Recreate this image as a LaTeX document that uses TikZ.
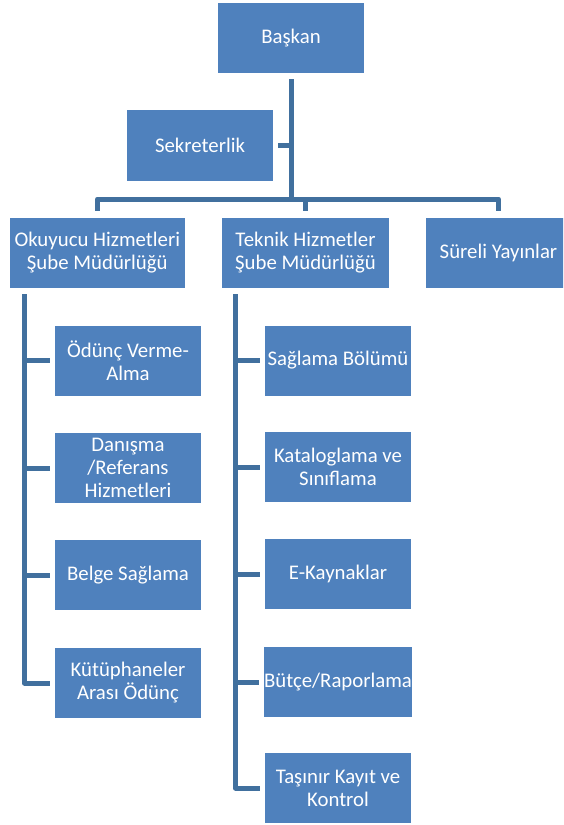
\documentclass[tikz,border=0pt]{standalone}
\usepackage{fontspec}
\setmainfont{Carlito}
\definecolor{boxblue}{HTML}{4F81BD}
\definecolor{lineblue}{HTML}{41709E}
\begin{document}
\begin{tikzpicture}[x=1pt,y=-1pt,
  box/.style={fill=boxblue, draw=none, text=white, align=center, inner sep=0pt,
    minimum width=146pt, minimum height=70pt,
    font=\fontsize{20.8}{23}\selectfont},
  conn/.style={draw=lineblue, line width=5pt, line join=round}]
\clip (0,0) rectangle (563,825);
\fill[white] (0,0) rectangle (563,825);
% top level
\node[box] (baskan) at (291,38) {Başkan};
\node[box, minimum height=71pt] (sekreter) at (200,145.5) {Sekreterlik};
% second level
\node[box, minimum width=174.6pt] (okuyucu) at (97.3,253) {Okuyucu Hizmetleri\\Şube Müdürlüğü};
\node[box, minimum width=167pt] (teknik) at (305.5,253) {Teknik Hizmetler\\Şube Müdürlüğü};
\node[box, minimum width=145pt] (sureli) at (498.5,253) {Süreli Yayınlar};
% left children
\node[box] (odunc) at (128,360.5) {Ödünç Verme-\\Alma};
\node[box] (danisma) at (128,468) {Danışma\\/Referans\\Hizmetleri};
\node[box] (belge) at (128,575) {Belge Sağlama};
\node[box] (kutup) at (128,683) {Kütüphaneler\\Arası Ödünç};
% right children
\node[box] (saglama) at (338,360.5) {Sağlama Bölümü};
\node[box] (katalog) at (338,467) {Kataloglama ve\\Sınıflama};
\node[box] (ekaynak) at (338,574) {E-Kaynaklar};
\node[box] (butce) at (338,682) {Bütçe/Raporlama};
\node[box] (tasinir) at (338,788) {Taşınır Kayıt ve\\Kontrol};
% junction coordinates
\coordinate (bar) at (0,199);
\coordinate (lspine) at (24.5,294);
\coordinate (rspine) at (235.5,294);
% connectors top
\draw[conn] ([yshift=-6pt]baskan.south) -- (baskan.south |- bar);
\draw[conn] ([xshift=5pt]sekreter.east) -- (sekreter.east -| baskan.south);
\draw[conn] ([yshift=7pt]okuyucu.north) -- (okuyucu.north |- bar) -- (sureli.north |- bar) -- ([yshift=7pt]sureli.north);
\draw[conn] (teknik.north |- bar) -- ([yshift=7pt]teknik.north);
% left spine
\draw[conn] (lspine) |- ([xshift=-5pt]kutup.west);
\draw[conn] (lspine |- odunc.west) -- ([xshift=-5pt]odunc.west);
\draw[conn] (lspine |- danisma.west) -- ([xshift=-5pt]danisma.west);
\draw[conn] (lspine |- belge.west) -- ([xshift=-5pt]belge.west);
% right spine
\draw[conn] (rspine) |- ([xshift=-5pt]tasinir.west);
\draw[conn] (rspine |- saglama.west) -- ([xshift=-5pt]saglama.west);
\draw[conn] (rspine |- katalog.west) -- ([xshift=-5pt]katalog.west);
\draw[conn] (rspine |- ekaynak.west) -- ([xshift=-5pt]ekaynak.west);
\draw[conn] (rspine |- butce.west) -- ([xshift=-5pt]butce.west);
\end{tikzpicture}
\end{document}
